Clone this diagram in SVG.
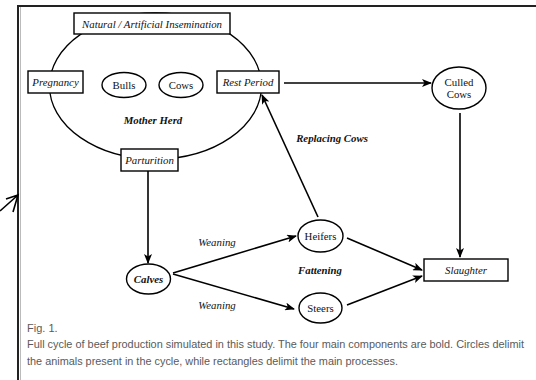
<svg xmlns="http://www.w3.org/2000/svg" width="536" height="380" viewBox="0 0 536 380">
<defs>
<marker id="ah" markerWidth="10" markerHeight="8" refX="9" refY="4" orient="auto" markerUnits="userSpaceOnUse">
<path d="M0,0 L10,4 L0,8 L2.5,4 z" fill="#000"/>
</marker>
<style>
.shape{fill:#fff;stroke:#000;stroke-width:1.4}
.herd{fill:none;stroke:#000;stroke-width:1.3}
.t{font-family:"Liberation Serif","Times New Roman",serif;font-size:10.8px;fill:#111;text-anchor:middle}
.i{font-style:italic}
.b{font-weight:bold}
.c{stroke:#000;stroke-width:1.6;fill:none;marker-end:url(#ah)}
.cap{font-family:"Liberation Sans",Arial,sans-serif;font-size:11px;fill:#5a5a5a}
</style>
</defs>
<rect width="536" height="380" fill="#fff"/>
<g id="frame">
<line x1="18" y1="6" x2="536" y2="6" stroke="#222" stroke-width="2"/>
<line x1="18" y1="5" x2="18" y2="380" stroke="#222" stroke-width="2"/>
<line x1="20.5" y1="7" x2="20.5" y2="380" stroke="#bbb" stroke-width="1"/>
<path d="M0,211 L18,195 M6,199 L18,195 L13,212" fill="none" stroke="#000" stroke-width="1.6"/>
</g>
<g id="mother-herd">
<ellipse class="herd" cx="155.5" cy="86" rx="106" ry="73"/>
<text class="t i b" x="153" y="123.5">Mother Herd</text>
</g>
<g id="insemination">
<rect class="shape" x="74" y="13" width="156" height="21"/>
<text class="t i" x="152" y="27.5">Natural / Artificial Insemination</text>
</g>
<g id="pregnancy">
<rect class="shape" x="28" y="71" width="55" height="22"/>
<text class="t i" x="55.5" y="86">Pregnancy</text>
</g>
<g id="bulls">
<ellipse class="shape" cx="124" cy="85" rx="22" ry="12.5"/>
<text class="t" x="124" y="88.5">Bulls</text>
</g>
<g id="cows">
<ellipse class="shape" cx="181" cy="85" rx="22" ry="12.5"/>
<text class="t" x="181" y="88.5">Cows</text>
</g>
<g id="rest-period">
<rect class="shape" x="217" y="71" width="62" height="22"/>
<text class="t i" x="248" y="86">Rest Period</text>
</g>
<g id="parturition">
<rect class="shape" x="121" y="149" width="57" height="22"/>
<text class="t i" x="149.5" y="164">Parturition</text>
</g>
<g id="culled-cows">
<ellipse class="shape" cx="459" cy="88" rx="27" ry="21"/>
<text class="t" x="459" y="86">Culled</text>
<text class="t" x="459" y="98">Cows</text>
</g>
<g id="calves">
<ellipse class="shape" cx="148.5" cy="279" rx="22" ry="15"/>
<text class="t i b" x="148.5" y="282.5">Calves</text>
</g>
<g id="heifers">
<ellipse class="shape" cx="320.5" cy="236" rx="22.5" ry="16"/>
<text class="t" x="320.5" y="239.5">Heifers</text>
</g>
<g id="steers">
<ellipse class="shape" cx="320.5" cy="308" rx="21.5" ry="15"/>
<text class="t" x="320.5" y="311.5">Steers</text>
</g>
<g id="slaughter">
<rect class="shape" x="424" y="259" width="84" height="22"/>
<text class="t i" x="466" y="274">Slaughter</text>
</g>
<g id="connectors">
<line class="c" x1="148" y1="171" x2="148" y2="263"/>
<line class="c" x1="284" y1="83" x2="431" y2="83"/>
<line class="c" x1="460" y1="113" x2="460" y2="257"/>
<line class="c" x1="318" y1="217" x2="262" y2="95"/>
<line class="c" x1="173" y1="273" x2="296" y2="236"/>
<line class="c" x1="173" y1="274" x2="294" y2="309"/>
<line class="c" x1="347" y1="238" x2="422" y2="270"/>
<line class="c" x1="347" y1="305" x2="422" y2="276"/>
<text class="t i" x="217" y="245.5">Weaning</text>
<text class="t i" x="217" y="308.5">Weaning</text>
<text class="t i b" x="320" y="273.5">Fattening</text>
<text class="t i b" x="332" y="141.5">Replacing Cows</text>
</g>
<g id="caption">
<text class="cap" x="27" y="332">Fig. 1.</text>
<text class="cap" x="27" y="348" textLength="497" lengthAdjust="spacingAndGlyphs">Full cycle of beef production simulated in this study. The four main components are bold. Circles delimit</text>
<text class="cap" x="27" y="365" textLength="371" lengthAdjust="spacingAndGlyphs">the animals present in the cycle, while rectangles delimit the main processes.</text>
</g>
</svg>
